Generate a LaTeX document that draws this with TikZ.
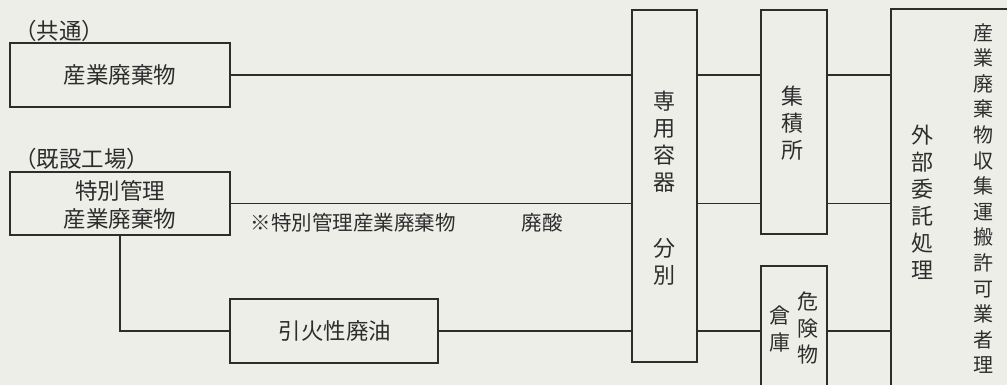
\documentclass[tikz,border=0pt]{standalone}
\usepackage{fontspec}
\setmainfont{Noto Sans CJK JP}
\definecolor{paper}{RGB}{238,238,233}
\definecolor{ink}{RGB}{45,45,45}
\begin{document}
\begin{tikzpicture}[x=1pt,y=-1pt,
  box/.style={draw=ink,line width=1.3pt,rectangle,inner sep=0pt},
  conn/.style={draw=ink,line width=1.3pt},
  lbl/.style={text=ink,inner sep=0pt,font=\fontsize{22.5}{26}\selectfont},
  vlbl/.style={text=ink,inner sep=0pt,align=center,font=\fontsize{22}{27}\selectfont},
  vlbls/.style={text=ink,inner sep=0pt,align=center,font=\fontsize{20}{25.6}\selectfont}]
\fill[paper] (0,0) rectangle (1007,385);
\useasboundingbox (0,0) rectangle (1007,385);
\clip (0,0) rectangle (1007,385);
% boxes
\node[box,minimum width=220pt,minimum height=64pt] (sangyo) at (120,75) {};
\node[box,minimum width=220pt,minimum height=63pt] (tokubetsu) at (120,203.5) {};
\node[box,minimum width=208pt,minimum height=64pt] (inka) at (334,331) {};
\node[box,minimum width=65pt,minimum height=352pt] (sen) at (664.5,186) {};
\node[box,minimum width=66pt,minimum height=224pt] (shu) at (794,122) {};
\node[box,minimum width=66pt,minimum height=134pt] (kiken) at (794,333) {};
\node[box,minimum width=129pt,minimum height=391pt] (gai) at (955.5,204.5) {};
% texts
\node[lbl,anchor=west] (t1) at (14,31) {（共通）};
\node[lbl,anchor=west] (t2) at (14,159) {（既設工場）};
\node[lbl] (s1) at (120,75) {産業廃棄物};
\node[lbl,align=center,font=\fontsize{22.5}{28}\selectfont] (s2) at (120,205) {特別管理\\産業廃棄物};
\node[lbl] (s3) at (335,331) {引火性廃油};
\node[lbl,font=\fontsize{20.5}{24}\selectfont] (n1) at (353,223) {※特別管理産業廃棄物};
\node[lbl,font=\fontsize{20.5}{24}\selectfont] (n2) at (542,223) {廃酸};
\node[vlbl] (v1) at (664,142) {専\\用\\容\\器};
\node[vlbl] (v2) at (664,262) {分\\別};
\node[vlbl] (v3) at (792,123) {集\\積\\所};
\node[vlbl,font=\fontsize{21}{26.5}\selectfont] (v4) at (808,328) {危\\険\\物};
\node[vlbl,font=\fontsize{21}{27}\selectfont] (v5) at (780,329) {倉\\庫};
\node[vlbl] (v6) at (922,202) {外\\部\\委\\託\\処\\理};
\node[vlbls] (v7) at (983,198.5) {産\\業\\廃\\棄\\物\\収\\集\\運\\搬\\許\\可\\業\\者\\理};
% connectors
\draw[conn] (sangyo.east) -- (sangyo.east -| sen.west);
\draw[conn] (tokubetsu.east) -- (tokubetsu.east -| sen.west);
\draw[conn] (tokubetsu.south) |- (inka.west);
\draw[conn] (inka.east) -- (inka.east -| sen.west);
\draw[conn] (sen.east |- sangyo.east) -- (shu.west |- sangyo.east);
\draw[conn] (sen.east |- tokubetsu.east) -- (shu.west |- tokubetsu.east);
\draw[conn] (sen.east |- inka.east) -- (kiken.west |- inka.east);
\draw[conn] (shu.east |- sangyo.east) -- (gai.west |- sangyo.east);
\draw[conn] (shu.east |- tokubetsu.east) -- (gai.west |- tokubetsu.east);
\draw[conn] (kiken.east |- inka.east) -- (gai.west |- inka.east);
\end{tikzpicture}
\end{document}
